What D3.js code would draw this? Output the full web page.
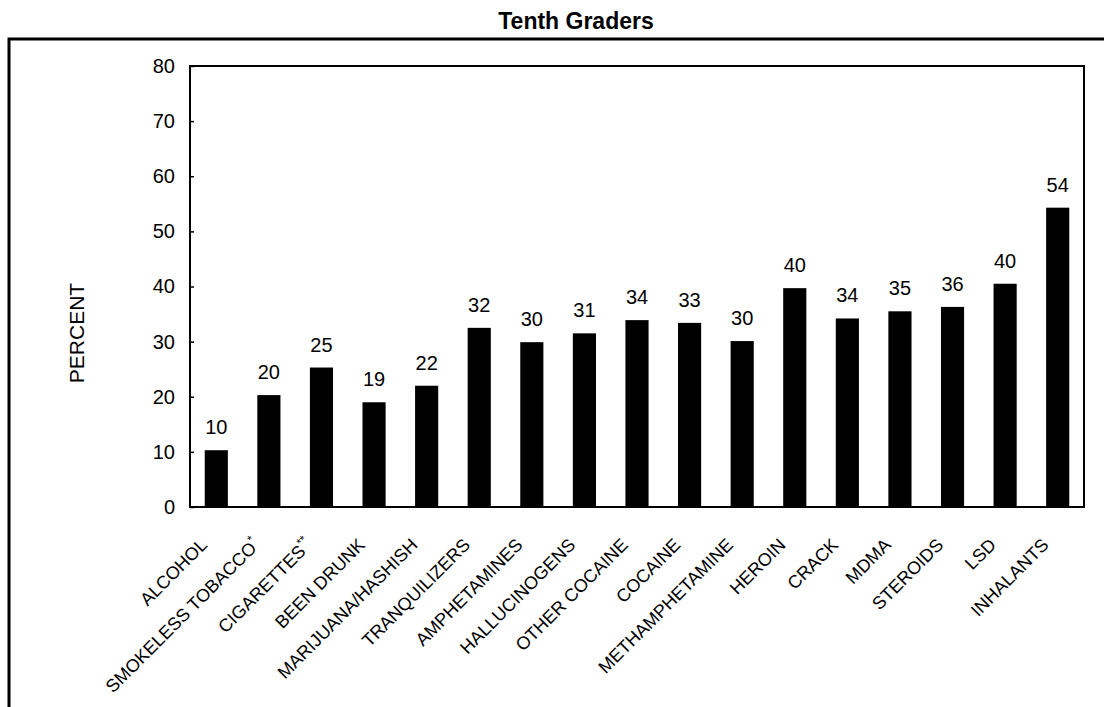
<!DOCTYPE html>
<html>
  <head>
    <meta charset='utf-8' />
    <title>Tenth Graders</title>
    <style>
      body { margin: 0; background: #fff; }
      svg { display: block; font-family: "Liberation Sans", Arial, sans-serif; }
      .tick line { stroke: #000; stroke-width: 1.5; }
      .domain { display: none; }
    </style>
  </head>
<body>
  <svg id="chart" width="1104" height="707"></svg>

  <script src="https://d3js.org/d3.v7.min.js"></script>
  <script>
    // data
    const categories = ["ALCOHOL", "SMOKELESS TOBACCO", "CIGARETTES", "BEEN DRUNK", "MARIJUANA/HASHISH",
      "TRANQUILIZERS", "AMPHETAMINES", "HALLUCINOGENS", "OTHER COCAINE", "COCAINE", "METHAMPHETAMINE",
      "HEROIN", "CRACK", "MDMA", "STEROIDS", "LSD", "INHALANTS"];
    const footnotes = ["", "*", "**", "", "", "", "", "", "", "", "", "", "", "", "", "", ""];
    const values = [10.3, 20.3, 25.3, 19.0, 22.0, 32.5, 29.9, 31.5, 33.9, 33.4, 30.1, 39.7, 34.2, 35.5, 36.3, 40.5, 54.3];
    const valueLabels = ["10", "20", "25", "19", "22", "32", "30", "31", "34", "33", "30", "40", "34", "35", "36", "40", "54"];
    const yTicks = [0, 10, 20, 30, 40, 50, 60, 70, 80];

    const w = 1104;
    const h = 707;
    const plotLeft = 190, plotRight = 1084, plotTop = 66, plotBottom = 507;

    const svg = d3.select("#chart");

    const xScale = d3.scaleBand()
                     .domain(categories)
                     .range([plotLeft, plotRight])
                     .paddingInner(0.56)
                     .paddingOuter(0.28);

    const yScale = d3.scaleLinear()
                     .domain([0, 80])
                     .range([plotBottom, plotTop]);

    // title
    svg.append("text")
       .attr("x", 576)
       .attr("y", 29)
       .attr("text-anchor", "middle")
       .style("font-weight", "bold")
       .style("font-size", "23px")
       .text("Tenth Graders");

    // outer frame (top and left edges only are visible)
    svg.append("path")
       .attr("d", "M9," + h + "V39H" + w)
       .attr("fill", "none")
       .attr("stroke", "#000")
       .attr("stroke-width", 3);

    // bars
    svg.selectAll("rect.bar")
       .data(values)
       .enter()
       .append("rect")
       .attr("class", "bar")
       .attr("x", (d, i) => xScale(categories[i]))
       .attr("y", d => yScale(d))
       .attr("width", xScale.bandwidth())
       .attr("height", d => yScale(0) - yScale(d))
       .attr("fill", "#000");

    // value labels
    svg.selectAll("text.val")
       .data(values)
       .enter()
       .append("text")
       .attr("class", "val")
       .attr("x", (d, i) => xScale(categories[i]) + xScale.bandwidth() / 2)
       .attr("y", d => yScale(d) - 16)
       .attr("text-anchor", "middle")
       .style("font-size", "20px")
       .text((d, i) => valueLabels[i]);

    // y axis
    const yAxis = d3.axisLeft(yScale)
                    .tickValues(yTicks)
                    .tickSize(-4)
                    .tickPadding(15);

    const gy = svg.append("g")
       .attr("transform", "translate(" + plotLeft + ",0)")
       .call(yAxis);
    gy.selectAll("text").style("font-size", "20px").attr("fill", "#000");

    // plot frame
    svg.append("rect")
       .attr("x", plotLeft)
       .attr("y", plotTop)
       .attr("width", plotRight - plotLeft)
       .attr("height", plotBottom - plotTop)
       .attr("fill", "none")
       .attr("stroke", "#000")
       .attr("stroke-width", 2);

    // category labels, rotated
    const cat = svg.selectAll("text.cat")
       .data(categories)
       .enter()
       .append("text")
       .attr("class", "cat")
       .attr("text-anchor", "end")
       .attr("transform", d => "translate(" + (xScale(d) + xScale.bandwidth() / 2 - 8) + "," + (plotBottom + 39) + ") rotate(-45)")
       .style("font-size", "18px");
    cat.append("tspan").text(d => d);
    cat.append("tspan")
       .attr("dy", -8)
       .style("font-size", "12px")
       .text((d, i) => footnotes[i]);

    // y axis title
    svg.append("text")
       .attr("transform", "translate(84,333) rotate(-90)")
       .attr("text-anchor", "middle")
       .style("font-size", "21px")
       .text("PERCENT");
  </script>
</body>
</html>
